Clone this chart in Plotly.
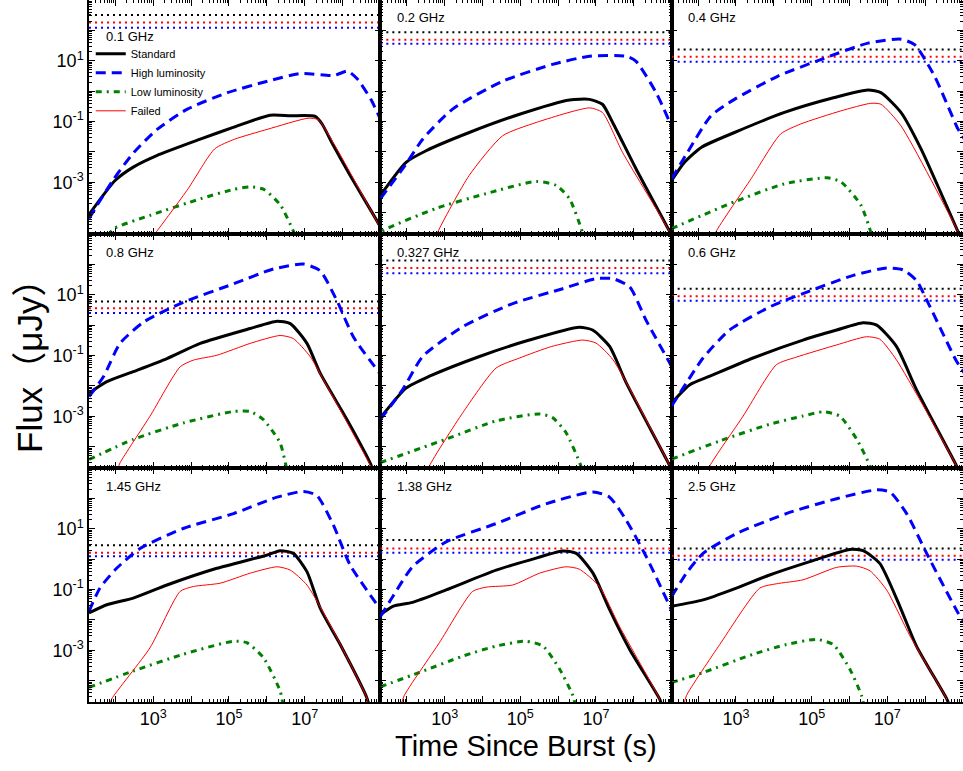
import plotly.graph_objects as go
from plotly.subplots import make_subplots

# ---------------- data: (log10 t [s], log10 flux [uJy]) ----------------
freq_labels = ["0.1 GHz", "0.2 GHz", "0.4 GHz",
               "0.8 GHz", "0.327 GHz", "0.6 GHz",
               "1.45 GHz", "1.38 GHz", "2.5 GHz"]

std_0p1 = [(1.3, -4.06), (1.99, -2.94), (2.47, -2.5), (3.09, -2.12), (4.24, -1.58), (5.11, -1.19),
           (6.09, -0.79), (6.62, -0.81), (7.28, -0.83), (7.46, -1.08), (7.76, -1.79), (8.2, -2.77), (8.97, -4.4), (9.1, -4.75)]
high_0p1 = [(1.3, -4.19), (1.96, -2.88), (2.49, -2.01), (3.11, -1.25), (3.9, -0.59), (4.96, -0.05),
            (6.02, 0.33), (6.9, 0.58), (7.78, 0.52), (8.14, 0.66), (8.4, 0.39), (8.75, -0.27), (9.0, -0.92)]
low_0p1 = [(1.8, -4.75), (1.96, -4.52), (2.93, -4.08), (4.25, -3.54), (5.13, -3.23), (5.57, -3.15),
           (5.92, -3.23), (6.36, -3.75), (6.71, -4.63), (6.8, -4.9)]
fail_0p1 = [(3.0, -4.75), (3.08, -4.63), (3.92, -3.21), (4.62, -1.9), (5.15, -1.58), (6.03, -1.25),
            (7.09, -0.89), (7.36, -0.94), (7.8, -1.79), (9.0, -4.5), (9.1, -4.75)]
lev_0p1 = [2.51, 2.26, 2.09]

std_0p2 = [(1.3, -3.43), (1.98, -2.34), (2.51, -1.96), (3.65, -1.36), (4.98, -0.76), (6.3, -0.29),
           (6.83, -0.27), (7.17, -0.43), (7.44, -1.03), (8.06, -2.56), (8.95, -4.63), (9.05, -4.9)]
high_0p2 = [(1.3, -3.54), (1.95, -2.45), (2.42, -1.58), (3.21, -0.59), (4.54, 0.33), (5.85, 0.88),
            (6.83, 1.15), (7.8, 1.15), (8.06, 0.98), (8.59, -0.05), (9.03, -1.25)]
low_0p2 = [(1.2, -4.9), (1.33, -4.63), (2.77, -3.86), (4.1, -3.37), (5.42, -2.97), (5.95, -3.1),
           (6.3, -3.54), (6.64, -4.63), (6.7, -4.9)]
fail_0p2 = [(2.75, -4.9), (2.82, -4.63), (3.65, -2.77), (4.53, -1.47), (5.42, -1.03), (6.83, -0.55),
            (7.17, -0.70), (7.7, -2.01), (8.95, -4.63), (9.05, -4.9)]
lev_0p2 = [1.94, 1.69, 1.56]

std_0p4 = [(1.3, -2.94), (1.64, -2.34), (2.08, -1.85), (2.96, -1.36), (4.28, -0.70), (5.6, -0.21),
           (6.49, 0.04), (6.83, -0.05), (7.36, -0.70), (7.89, -1.9), (8.87, -4.63), (8.97, -4.9)]
high_0p4 = [(1.3, -2.88), (1.72, -2.01), (2.34, -0.81), (2.96, -0.27), (4.1, 0.49), (5.24, 1.04),
            (6.49, 1.58), (7.36, 1.71), (7.72, 1.53), (8.25, 0.49), (8.87, -1.25), (9.05, -1.6)]
low_0p4 = [(1.3, -4.52), (2.96, -3.64), (4.28, -3.05), (5.42, -2.85), (5.78, -2.99), (6.3, -3.75),
           (6.56, -4.63), (6.6, -4.9)]
fail_0p4 = [(2.4, -4.9), (2.47, -4.63), (3.4, -2.88), (4.18, -1.41), (4.71, -1.08), (5.77, -0.65),
            (6.56, -0.4), (6.83, -0.43), (7.36, -1.14), (8.87, -4.63), (8.97, -4.9)]
lev_0p4 = [1.37, 1.13, 0.97]

std_0p8 = [(1.3, -2.24), (1.77, -1.86), (2.47, -1.53), (3.36, -1.1), (4.24, -0.6), (5.56, -0.11),
           (6.27, 0.13), (6.62, 0.05), (7.06, -0.6), (7.41, -1.58), (8.12, -3.11), (8.73, -4.53), (8.8, -4.75)]
high_0p8 = [(1.3, -2.35), (1.68, -1.7), (2.12, -0.6), (2.74, 0.1), (3.79, 0.75), (5.12, 1.36),
            (6.18, 1.85), (6.97, 2.01), (7.41, 1.79), (7.85, 0.81), (8.29, -0.39), (8.98, -1.58)]
low_0p8 = [(1.3, -4.42), (2.47, -3.76), (3.79, -3.22), (5.12, -2.84), (5.56, -2.84), (5.91, -3.11),
           (6.35, -3.87), (6.49, -4.53), (6.55, -4.9)]
fail_0p8 = [(2.05, -4.75), (2.12, -4.53), (2.91, -3.0), (3.71, -1.37), (4.06, -1.15), (4.68, -0.99),
            (5.56, -0.6), (6.35, -0.34), (6.7, -0.44), (7.15, -1.04), (7.5, -1.8), (8.73, -4.6), (8.8, -4.8)]
lev_0p8 = [0.78, 0.56, 0.40]

std_0p327 = [(1.3, -3.05), (1.98, -2.07), (2.6, -1.68), (3.92, -1.03), (5.24, -0.49), (6.56, -0.07),
             (6.91, -0.16), (7.36, -0.7), (7.8, -1.9), (8.95, -4.63), (9.05, -4.9)]
high_0p327 = [(1.3, -3.1), (1.89, -2.12), (2.42, -1.03), (3.48, -0.05), (4.8, 0.71), (6.12, 1.2),
              (7.0, 1.53), (7.45, 1.53), (7.89, 1.26), (8.32, 0.17), (8.95, -1.25), (9.05, -1.5)]
low_0p327 = [(1.3, -4.52), (3.04, -3.75), (4.36, -3.15), (5.51, -2.92), (5.86, -3.05), (6.21, -3.54),
             (6.6, -4.63), (6.65, -4.9)]
fail_0p327 = [(2.55, -4.9), (2.6, -4.63), (3.48, -2.88), (4.36, -1.41), (4.98, -1.08), (5.83, -0.7),
              (6.65, -0.49), (7.0, -0.59), (7.45, -1.14), (8.95, -4.63), (9.05, -4.9)]
lev_0p327 = [2.13, 1.88, 1.71]

std_0p6 = [(1.3, -2.56), (1.78, -1.96), (2.31, -1.68), (3.45, -1.08), (4.77, -0.49), (5.66, -0.16),
           (6.36, 0.08), (6.72, 0.0), (7.24, -0.7), (7.77, -2.12), (8.83, -4.63), (8.93, -4.9)]
high_0p6 = [(1.3, -2.66), (1.69, -1.9), (2.13, -1.08), (2.83, -0.16), (3.89, 0.6), (4.77, 1.04),
            (6.1, 1.64), (6.98, 1.88), (7.42, 1.82), (7.77, 1.47), (8.13, 0.6), (8.83, -1.19), (9.05, -1.6)]
low_0p6 = [(1.3, -4.41), (2.57, -3.81), (3.89, -3.26), (4.77, -2.99), (5.3, -2.85), (5.74, -2.99),
           (6.19, -3.75), (6.54, -4.63), (6.6, -4.9)]
fail_0p6 = [(2.25, -4.9), (2.31, -4.63), (3.19, -2.99), (4.07, -1.3), (4.6, -1.05), (5.66, -0.65),
            (6.45, -0.38), (6.8, -0.46), (7.24, -1.14), (8.83, -4.63), (8.93, -4.9)]
lev_0p6 = [1.2, 0.95, 0.8]

std_1p45 = [(1.3, -1.77), (1.77, -1.5), (2.47, -1.28), (3.36, -0.85), (4.68, -0.3), (5.99, 0.13),
            (6.35, 0.28), (6.7, 0.19), (7.06, -0.41), (7.41, -1.61), (7.94, -2.81), (8.64, -4.55), (8.7, -4.8)]
high_1p45 = [(1.3, -1.72), (1.59, -0.95), (2.03, -0.3), (2.65, 0.35), (3.79, 1.01), (5.12, 1.5),
             (6.27, 2.04), (6.97, 2.23), (7.32, 2.1), (7.76, 1.12), (8.2, -0.19), (8.98, -1.61)]
low_1p45 = [(1.3, -4.22), (2.47, -3.68), (3.79, -3.13), (5.12, -2.7), (5.47, -2.75), (5.91, -3.24),
            (6.35, -4.33), (6.4, -4.6), (6.45, -4.9)]
fail_1p45 = [(1.85, -4.8), (1.9, -4.6), (2.91, -2.92), (3.71, -1.06), (4.06, -0.9), (4.77, -0.79),
             (5.56, -0.46), (6.27, -0.25), (6.62, -0.36), (7.06, -0.85), (7.76, -2.37), (8.64, -4.55), (8.7, -4.8)]
lev_1p45 = [0.46, 0.21, 0.10]

std_1p38 = [(1.3, -1.83), (1.63, -1.55), (2.15, -1.42), (3.04, -1.01), (4.36, -0.36), (5.24, -0.03),
            (6.12, 0.27), (6.48, 0.19), (6.92, -0.46), (7.36, -1.66), (7.89, -2.97), (8.68, -4.6), (8.75, -4.85)]
high_1p38 = [(1.3, -1.89), (1.63, -1.23), (2.15, -0.25), (3.04, 0.57), (4.36, 1.17), (5.68, 1.82),
             (6.92, 2.21), (7.36, 2.04), (7.8, 1.28), (8.33, 0.08), (8.99, -1.66)]
low_1p38 = [(1.3, -4.2), (2.33, -3.73), (3.48, -3.19), (4.36, -2.86), (5.15, -2.7), (5.6, -2.86),
            (6.04, -3.62), (6.39, -4.49), (6.45, -4.8)]
fail_1p38 = [(1.85, -4.8), (1.93, -4.49), (2.86, -2.75), (3.74, -1.06), (4.1, -0.92), (4.8, -0.85),
             (5.51, -0.46), (6.21, -0.25), (6.56, -0.33), (7.09, -0.9), (7.62, -2.21), (8.68, -4.6), (8.75, -4.85)]
lev_1p38 = [0.63, 0.35, 0.21]

std_2p5 = [(1.3, -1.55), (2.13, -1.34), (3.01, -0.95), (3.89, -0.52), (4.95, -0.08), (6.01, 0.32),
           (6.36, 0.28), (6.8, -0.14), (7.33, -1.55), (7.77, -2.86), (8.57, -4.6), (8.65, -4.85)]
high_2p5 = [(1.3, -1.23), (1.69, -0.46), (2.13, 0.19), (3.01, 0.84), (4.33, 1.5), (5.66, 1.99),
            (6.72, 2.28), (7.07, 2.21), (7.51, 1.5), (8.04, 0.19), (8.87, -1.77), (9.05, -2.1)]
low_2p5 = [(1.3, -4.06), (2.13, -3.73), (3.45, -3.13), (4.33, -2.81), (5.13, -2.64), (5.57, -2.81),
           (6.01, -3.62), (6.32, -4.49), (6.38, -4.8)]
fail_2p5 = [(1.62, -4.8), (1.69, -4.49), (2.57, -2.81), (3.63, -0.95), (4.07, -0.81), (4.77, -0.68),
            (5.66, -0.27), (6.19, -0.23), (6.54, -0.38), (6.98, -1.01), (7.6, -2.53), (8.57, -4.6), (8.65, -4.85)]
lev_2p5 = [0.35, 0.11, -0.02]

PANELS = [
    (freq_labels[0], std_0p1, high_0p1, low_0p1, fail_0p1, lev_0p1),
    (freq_labels[1], std_0p2, high_0p2, low_0p2, fail_0p2, lev_0p2),
    (freq_labels[2], std_0p4, high_0p4, low_0p4, fail_0p4, lev_0p4),
    (freq_labels[3], std_0p8, high_0p8, low_0p8, fail_0p8, lev_0p8),
    (freq_labels[4], std_0p327, high_0p327, low_0p327, fail_0p327, lev_0p327),
    (freq_labels[5], std_0p6, high_0p6, low_0p6, fail_0p6, lev_0p6),
    (freq_labels[6], std_1p45, high_1p45, low_1p45, fail_1p45, lev_1p45),
    (freq_labels[7], std_1p38, high_1p38, low_1p38, fail_1p38, lev_1p38),
    (freq_labels[8], std_2p5, high_2p5, low_2p5, fail_2p5, lev_2p5),
]

series_names = ["Standard", "High luminosity", "Low luminosity", "Failed"]
X_RANGE_LOG = [1.3, 9.0]
Y_RANGE_LOG = [-4.7, 3.0]

# ---------------- styles ----------------
FONT = "Liberation Sans, Arial, Helvetica, sans-serif"
curve_styles = [
    dict(color="#000000", width=3, dash="solid"),
    dict(color="#0000FF", width=3, dash="10px,6px"),
    dict(color="#008000", width=3, dash="6px,5px,2px,5px"),
    dict(color="#FF0000", width=1, dash="solid"),
]
level_colors = ["#000000", "#FF0000", "#0000FF"]

fig = make_subplots(rows=3, cols=3, horizontal_spacing=0, vertical_spacing=0)

x_lo, x_hi = 10 ** X_RANGE_LOG[0], 10 ** X_RANGE_LOG[1]

for i, (label, std, high, low, fail, lev) in enumerate(PANELS):
    r, c = i // 3 + 1, i % 3 + 1
    for lv, col in zip(lev, level_colors):
        fig.add_trace(go.Scatter(x=[x_lo, x_hi], y=[10 ** lv, 10 ** lv], mode="lines",
                                 line=dict(color=col, width=2, dash="2px,4px"),
                                 showlegend=False, hoverinfo="skip"), row=r, col=c)
    for name, pts, sty in zip(series_names, [std, high, low, fail], curve_styles):
        fig.add_trace(go.Scatter(x=[10 ** a for a, b in pts], y=[10 ** b for a, b in pts],
                                 mode="lines", name=name,
                                 line=dict(color=sty["color"], width=sty["width"], dash=sty["dash"],
                                           shape="spline", smoothing=0.6),
                                 showlegend=(i == 0)), row=r, col=c)

x_major = [10 ** n for n in range(2, 9)]
x_text = ["10<sup>%d</sup>" % n if n in (3, 5, 7) else "" for n in range(2, 9)]
x_minor = [k * 10 ** n for n in range(1, 9) for k in range(2, 10)]
y_major = [10 ** n for n in range(-4, 3)]
y_text = ["10<sup>%d</sup>" % n if n in (-3, -1, 1) else "" for n in range(-4, 3)]
y_minor = [k * 10.0 ** n for n in range(-5, 3) for k in range(2, 10)]

axis_common = dict(type="log", showline=True, linecolor="black", linewidth=1.5, mirror="allticks",
                   ticks="inside", ticklen=6, tickwidth=1, tickcolor="black", showgrid=False,
                   zeroline=False, tickfont=dict(family=FONT, size=18, color="black"),
                   tickmode="array", automargin=False)

for i in range(9):
    r, c = i // 3 + 1, i % 3 + 1
    fig.update_xaxes(range=X_RANGE_LOG, tickvals=x_major, ticktext=x_text,
                     showticklabels=(r == 3),
                     minor=dict(ticks="inside", ticklen=3, tickwidth=1, tickcolor="black",
                                tickvals=x_minor, showgrid=False),
                     row=r, col=c, **axis_common)
    fig.update_yaxes(range=Y_RANGE_LOG, tickvals=y_major, ticktext=y_text,
                     showticklabels=(c == 1),
                     minor=dict(ticks="inside", ticklen=3, tickwidth=1, tickcolor="black",
                                tickvals=y_minor, showgrid=False),
                     row=r, col=c, **axis_common)

annotations = []
for i, (label, *_rest) in enumerate(PANELS):
    sfx = "" if i == 0 else str(i + 1)
    annotations.append(dict(text=label, xref="x%s domain" % sfx, yref="y%s domain" % sfx,
                            x=0.05, y=(1 - 36 / 234) if i == 0 else (1 - 18 / 234),
                            xanchor="left", yanchor="middle", showarrow=False,
                            font=dict(family=FONT, size=13, color="black")))
annotations.append(dict(text="Flux（μJy）", xref="paper", yref="paper", x=-0.068, y=0.491,
                        xanchor="center", yanchor="middle", textangle=-90, showarrow=False,
                        font=dict(family="Liberation Sans, Noto Sans CJK SC, sans-serif", size=35, color="black")))
annotations.append(dict(text="Time Since Burst (s)", xref="paper", yref="paper", x=0.5, y=-0.062,
                        xanchor="center", yanchor="middle", showarrow=False,
                        font=dict(family=FONT, size=29, color="black")))

fig.update_layout(
    width=963, height=771,
    margin=dict(l=89, r=0, t=0, b=69, autoexpand=False),
    paper_bgcolor="white", plot_bgcolor="white",
    annotations=annotations,
    legend=dict(x=0.002, y=0.944, xanchor="left", yanchor="top", bgcolor="rgba(0,0,0,0)",
                font=dict(family=FONT, size=11, color="black"), borderwidth=0),
    showlegend=True,
)

fig.write_html("out.html", config={"displayModeBar": False},
               post_script="document.body.style.margin='0px';")
